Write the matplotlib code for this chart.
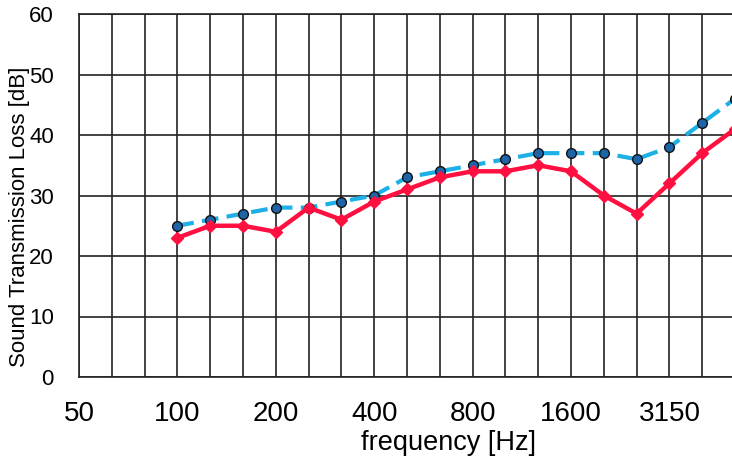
import numpy as np
import matplotlib.pyplot as plt

plt.rcParams['font.family'] = ['Liberation Sans', 'DejaVu Sans']

# third-octave bands
bands = ['50', '63', '80', '100', '125', '160', '200', '250', '315', '400', '500',
         '630', '800', '1000', '1250', '1600', '2000', '2500', '3150', '4000', '5000']
labelled = ['50', '100', '200', '400', '800', '1600', '3150']

# measured curves (from 100 Hz up)
red_bands = bands[3:]
red_tl = [23, 25, 25, 24, 28, 26, 29, 31, 33, 34, 34, 35, 34, 30, 27, 32, 37, 41]
blue_bands = bands[3:]
blue_tl = [25, 26, 27, 28, 28, 29, 30, 33, 34, 35, 36, 37, 37, 37, 36, 38, 42, 46]

W, H = 732, 459
fig = plt.figure(figsize=(W / 100, H / 100), dpi=100)
ax = fig.add_axes([79 / W, 1 - 377 / H, 656 / W, 363 / H])

pos = {b: i for i, b in enumerate(bands)}
xr = [pos[b] for b in red_bands]
xb = [pos[b] for b in blue_bands]

ax.plot(xb, blue_tl, color='#1cb0e6', lw=3, ls=(0, (4, 2)), zorder=3,
        marker='o', ms=7, mfc='#1d64a8', mec='#111111', mew=1)
ax.plot(xr, red_tl, color='#ff1040', lw=3.2, zorder=4,
        marker='D', ms=6.5, mfc='#ff1040', mec='#ff1040')

ax.set_xlim(0, len(bands) - 1)
ax.set_ylim(0, 60)
ax.set_xticks(range(len(bands)))
ax.set_xticklabels([b if b in labelled else '' for b in bands], fontsize=20)
ax.set_yticks(range(0, 61, 10))
ax.tick_params(axis='y', labelsize=16, length=0, pad=18)
ax.tick_params(axis='x', length=0, pad=17)
ax.grid(True, color='#222222', lw=1.2)
ax.set_axisbelow(True)
for s in ax.spines.values():
    s.set_color('#222222')
    s.set_linewidth(1.2)

fig.text(449 / W, 1 - 443 / H, 'frequency [Hz]', fontsize=19.5, ha='center', va='center')
fig.text(20 / W, 1 - 217 / H, 'Sound Transmission Loss [dB]', fontsize=16,
         rotation=90, ha='center', va='center')

fig.savefig('out.png', dpi=100)
